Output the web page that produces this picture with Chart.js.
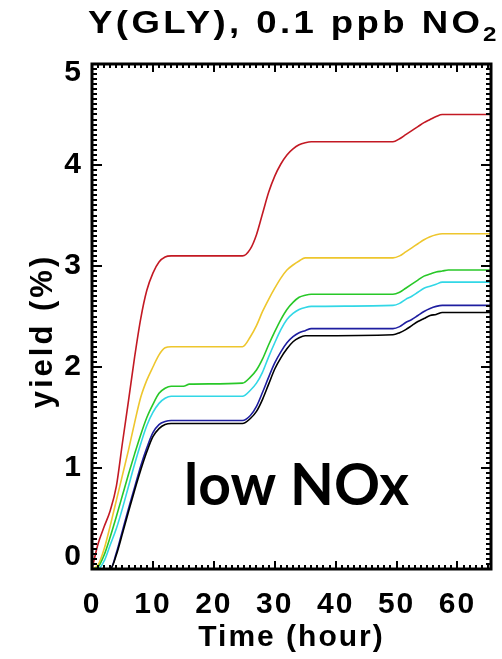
<!DOCTYPE html>
<html><head><meta charset="utf-8">
<script src="https://cdn.jsdelivr.net/npm/chart.js@4.4.1/dist/chart.umd.min.js"></script>
<style>html,body{margin:0;padding:0;background:#fff}</style>
</head><body>
<canvas id="c" width="502" height="659"></canvas>
<script>
// ---- data ----
const time = [0,1,2,3,4,5,6,7,8,9,10,11,12,13,15,16,24.7,26,27,28,29,30,31,32,33,34,35,36,49.4,50.5,51.5,52.5,53.5,54.5,55.5,56.5,57.5,58.5,65.5];
const yieldRed    = [0.00,0.25,0.42,0.58,0.82,1.25,1.67,2.10,2.48,2.76,2.93,3.04,3.09,3.10,3.10,3.10,3.10, 3.17,3.31,3.52,3.73,3.89,4.01,4.10,4.16,4.20,4.22,4.23, 4.23, 4.26,4.30,4.34,4.38,4.42,4.45,4.48,4.50,4.50,4.50];
const yieldYellow = [0.00,0.04,0.20,0.43,0.68,0.93,1.18,1.45,1.70,1.87,2.00,2.12,2.19,2.20,2.20,2.20,2.20, 2.30,2.41,2.55,2.67,2.78,2.88,2.96,3.01,3.05,3.08,3.08, 3.08, 3.10,3.14,3.18,3.22,3.26,3.29,3.31,3.32,3.32,3.32];
const yieldGreen  = [0.00,0.02,0.14,0.32,0.52,0.73,0.94,1.14,1.33,1.50,1.63,1.74,1.79,1.81,1.81,1.83,1.84, 1.90,1.97,2.08,2.22,2.35,2.47,2.57,2.64,2.69,2.71,2.72, 2.72, 2.74,2.78,2.82,2.86,2.90,2.92,2.94,2.95,2.96,2.96];
const yieldCyan   = [0.00,0.00,0.08,0.24,0.40,0.60,0.82,1.04,1.24,1.42,1.55,1.64,1.69,1.71,1.71,1.71,1.71, 1.77,1.84,1.95,2.10,2.24,2.37,2.47,2.53,2.57,2.59,2.60, 2.61, 2.63,2.67,2.70,2.74,2.78,2.80,2.82,2.84,2.84,2.84];
const yieldBlue   = [0.00,0.00,0.00,0.00,0.16,0.38,0.60,0.81,1.02,1.20,1.35,1.43,1.46,1.47,1.47,1.47,1.47, 1.52,1.61,1.75,1.90,2.04,2.15,2.24,2.30,2.34,2.36,2.38, 2.38, 2.40,2.44,2.47,2.51,2.55,2.58,2.60,2.61,2.61,2.61];
const yieldBlack  = [0.00,0.00,0.00,0.00,0.14,0.35,0.57,0.78,0.98,1.16,1.31,1.39,1.43,1.44,1.44,1.44,1.44, 1.49,1.56,1.68,1.83,1.98,2.09,2.18,2.25,2.29,2.31,2.31, 2.32, 2.34,2.37,2.41,2.45,2.48,2.51,2.52,2.54,2.54,2.54];
const xTickValues = [0,10,20,30,40,50,60];
const yTickValues = [0,1,2,3,4,5];
const titleMain = 'Y(GLY), 0.1 ppb NO';
const titleSub = '2';
const titleText = titleMain + '\u2082';
const xTitle = 'Time (hour)';
const yTitle = 'yield (%)';
const annotation = 'low NOx';

const FONT = '"Liberation Sans", Arial, Helvetica, sans-serif';
const seriesList = [
  {label:'black',  data:yieldBlack,  color:'#000000'},
  {label:'blue',   data:yieldBlue,   color:'rgb(30,30,160)'},
  {label:'cyan',   data:yieldCyan,   color:'rgb(50,215,230)'},
  {label:'green',  data:yieldGreen,  color:'rgb(40,200,40)'},
  {label:'yellow', data:yieldYellow, color:'rgb(238,198,45)'},
  {label:'red',    data:yieldRed,    color:'rgb(195,25,35)'}
];

const spacingPlugin = {
  id:'spacing',
  beforeDraw(chart){
    chart.ctx.letterSpacing = '2px';
    const ys = chart.scales.y;
    const items = ys.getLabelItems();
    items.forEach(it => {
      if (it._moved) return;
      if (it.label === '5') it.options.translation[1] += 9;
      if (it.label === '0') it.options.translation[1] -= 12;
      it._moved = true;
    });
  }
};

const framePlugin = {
  id:'frame',
  afterDatasetsDraw(chart){
    const {ctx, chartArea:{left,right,top,bottom}, scales:{x,y}} = chart;
    ctx.save();
    ctx.strokeStyle = '#000';
    ctx.lineWidth = 2;
    ctx.beginPath();
    for (let v = 0; v <= x.max + 1e-6; v += 1) {
      const px = Math.round(x.getPixelForValue(v));
      const len = (v % 10 === 0) ? 8 : 4;
      ctx.moveTo(px, bottom); ctx.lineTo(px, bottom - len);
      ctx.moveTo(px, top); ctx.lineTo(px, top + len);
    }
    for (let i = 0; i <= 100; i++) {
      const v = i * 0.05;
      const py = Math.round(y.getPixelForValue(v));
      const len = (i % 20 === 0) ? 10 : 5;
      ctx.moveTo(left, py); ctx.lineTo(left + len, py);
      ctx.moveTo(right, py); ctx.lineTo(right - len, py);
    }
    ctx.stroke();
    ctx.lineWidth = 3;
    ctx.strokeRect(left, top, right - left, bottom - top);
    ctx.restore();
  },
  afterDraw(chart){
    const ctx = chart.ctx;
    ctx.save();
    ctx.letterSpacing = '0px';
    ctx.fillStyle = '#000';
    ctx.font = 'bold 57px Lato, "Open Sans", sans-serif';
    ctx.textAlign = 'left';
    ctx.textBaseline = 'alphabetic';
    ctx.fillText(annotation, 184, 505);
    ctx.restore();
  }
};

const chart = new Chart(document.getElementById('c'), {
  type:'line',
  data:{
    datasets: seriesList.map(s => ({
      label:s.label,
      data: time.map((t,i) => ({x:t, y:s.data[i]})),
      borderColor:s.color,
      backgroundColor:s.color,
      borderWidth:1.6,
      pointRadius:0,
      fill:false,
      cubicInterpolationMode:'monotone'
    }))
  },
  options:{
    responsive:false,
    animation:false,
    events:[],
    layout:{padding:{left:0,right:11,top:0,bottom:0}},
    plugins:{
      legend:{display:false},
      tooltip:{enabled:false},
      title:{
        display:true, text:titleText, fullSize:false, color:'#000',
        font:{family:FONT, size:30, weight:'bold', lineHeight:1.2},
        padding:{top:6, bottom:22}
      }
    },
    scales:{
      x:{
        type:'linear', min:0, max:65.5,
        grid:{display:false, drawTicks:false},
        border:{display:false},
        afterBuildTicks(s){ s.ticks = xTickValues.map(v => ({value:v})); },
        ticks:{color:'#000', font:{family:FONT, size:30, weight:'bold'}, padding:18, maxRotation:0, autoSkip:false},
        title:{display:true, text:xTitle, color:'#000', font:{family:FONT, size:30, weight:'bold', lineHeight:1.2}, padding:{top:0,bottom:3}},
        afterFit(s){ s.height = 90; }
      },
      y:{
        type:'linear', min:0, max:5,
        grid:{display:false, drawTicks:false},
        border:{display:false},
        afterBuildTicks(s){ s.ticks = yTickValues.map(v => ({value:v})); },
        ticks:{color:'#000', font:{family:FONT, size:30, weight:'bold'}, padding:9, autoSkip:false},
        title:{display:true, text:yTitle, color:'#000', font:{family:FONT, size:31, weight:'bold', lineHeight:1.2}, padding:{top:24,bottom:0}},
        afterFit(s){ s.width = 92; }
      }
    }
  },
  plugins:[spacingPlugin, framePlugin]
});

// Main title: wide lettering with a real subscript, as in the reference
const tb = chart.titleBlock;
if (tb) {
  tb.draw = function(){
    const c = chart.ctx;
    c.save();
    c.fillStyle = '#000';
    c.textAlign = 'left';
    c.textBaseline = 'alphabetic';
    c.font = 'bold 31px ' + FONT;
    c.letterSpacing = '0px';
    const sx = 1.18;
    const natural = c.measureText(titleMain).width;
    const target = 392;
    const sp = (target / sx - natural) / (titleMain.length - 1);
    c.translate(88, 33);
    c.scale(sx, 1);
    c.letterSpacing = sp.toFixed(2) + 'px';
    c.fillText(titleMain, 0, 0);
    c.restore();
    c.save();
    c.fillStyle = '#000';
    c.textAlign = 'left';
    c.textBaseline = 'alphabetic';
    c.font = 'bold 21px ' + FONT;
    c.letterSpacing = '0px';
    c.translate(483, 41);
    c.scale(1.15, 1);
    c.fillText(titleSub, 0, 0);
    c.restore();
  };
}
// y-axis title: slightly lower than centre and wider lettering, as in the reference
const ys = chart.scales.y;
ys.drawTitle = function(){
  const c = chart.ctx;
  c.save();
  c.fillStyle = '#000';
  c.font = 'bold 31px ' + FONT;
  c.letterSpacing = '3px';
  c.textAlign = 'center';
  c.textBaseline = 'middle';
  c.translate(43, 331);
  c.rotate(-Math.PI / 2);
  c.fillText(this.options.title.text, 0, 0);
  c.restore();
};
chart.draw();
</script>
</body></html>
